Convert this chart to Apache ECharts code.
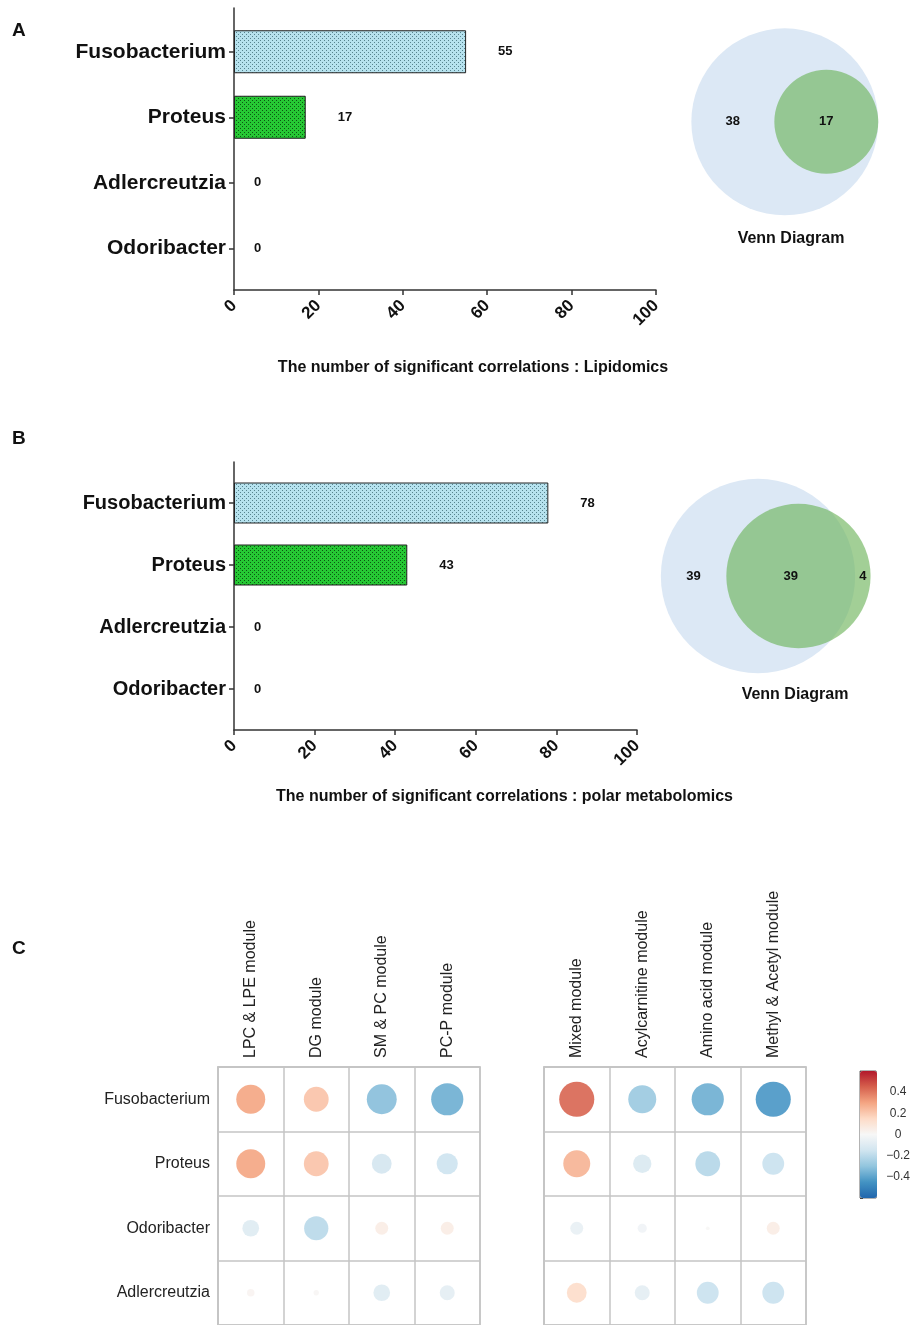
<!DOCTYPE html>
<html>
<head>
<meta charset="utf-8">
<script src="https://cdn.jsdelivr.net/npm/echarts@6/dist/echarts.min.js"></script>
<style>
html, body { margin: 0; padding: 0; background: #fff; }
#main { width: 913px; height: 1325px; }
</style>
</head>
<body>
<div id="main"></div>
<script>
// ---- data ----
const genera = ['Fusobacterium', 'Proteus', 'Adlercreutzia', 'Odoribacter'];
const lipidCounts = [55, 17, 0, 0];
const polarCounts = [78, 43, 0, 0];
// venn regions: Fusobacterium only, both, Proteus only
const vennLipid = [38, 17, 0];
const vennPolar = [39, 39, 4];

const lipidModules = ['LPC & LPE module', 'DG module', 'SM & PC module', 'PC-P module'];
const polarModules = ['Mixed module', 'Acylcarnitine module', 'Amino acid module', 'Methyl & Acetyl module'];
const corrGenera = ['Fusobacterium', 'Proteus', 'Odoribacter', 'Adlercreutzia'];
const lipidCorr = [
    [0.30, 0.22, -0.32, -0.37],
    [0.30, 0.22, -0.14, -0.16],
    [-0.10, -0.21, 0.06, 0.06],
    [0.02, 0.01, -0.10, -0.08]
];
const polarCorr = [
    [0.44, -0.28, -0.37, -0.44],
    [0.26, -0.12, -0.22, -0.17],
    [-0.06, -0.03, 0.005, 0.06],
    [0.14, -0.08, -0.17, -0.17]
];
const colorbarTicks = [-0.4, -0.2, 0, 0.2, 0.4];

const FONT = 'Liberation Sans, Arial, sans-serif';
const rdbu = ['#2166AC', '#4393C3', '#92C5DE', '#D1E5F0', '#F7F7F7', '#FDDBC7', '#F4A582', '#D6604D', '#B2182B'];

// dotted fill like the original bars
function dotPattern(base, dot) {
    const c = document.createElement('canvas');
    c.width = 4; c.height = 4;
    const g = c.getContext('2d');
    g.fillStyle = base; g.fillRect(0, 0, 4, 4);
    g.fillStyle = dot; g.fillRect(0, 0, 1, 1); g.fillRect(2, 2, 1, 1);
    return { image: c, repeat: 'repeat' };
}
const barFills = [dotPattern('#b6e2ee', '#56838e'), dotPattern('#26c834', '#0b5612')];

function barData(counts) {
    return counts.map((v, i) => ({
        value: v,
        itemStyle: { color: barFills[i % 2], borderWidth: v === 0 ? 0 : 1 },
        label: { distance: v === 0 ? 20 : 32 }
    }));
}

// area-proportional two-set venn
function lensArea(r1, r2, d) {
    if (d >= r1 + r2) return 0;
    if (d <= Math.abs(r1 - r2)) return Math.PI * Math.min(r1, r2) ** 2;
    const a1 = Math.acos((d * d + r1 * r1 - r2 * r2) / (2 * d * r1));
    const a2 = Math.acos((d * d + r2 * r2 - r1 * r1) / (2 * d * r2));
    const k = Math.sqrt((-d + r1 + r2) * (d + r1 - r2) * (d - r1 + r2) * (d + r1 + r2));
    return r1 * r1 * a1 + r2 * r2 * a2 - 0.5 * k;
}
function vennLayout(regions) {
    const r1 = Math.sqrt(regions[0] + regions[1]);
    const r2 = Math.sqrt(regions[1] + regions[2]);
    const target = Math.PI * regions[1];
    let lo = Math.abs(r1 - r2), hi = r1 + r2;
    for (let i = 0; i < 60; i++) {
        const mid = (lo + hi) / 2;
        if (lensArea(r1, r2, mid) > target) lo = mid; else hi = mid;
    }
    const d = (lo + hi) / 2;
    const xs = [(-r1 + d - r2) / 2, (d - r2 + Math.min(r1, d + r2)) / 2, (r1 + d + r2) / 2];
    return {
        circles: [[0, 0, r1, 0], [d, 0, r2, 1]],
        labels: regions.map((n, i) => [xs[i], 0, n]).filter(p => p[2] > 0)
    };
}
const vennA = vennLayout(vennLipid);
const vennB = vennLayout(vennPolar);

function corrData(mat) {
    const out = [];
    mat.forEach((row, r) => row.forEach((v, c) => out.push([c, r, v])));
    return out;
}

// ---- chart ----
const chart = echarts.init(document.getElementById('main'));

const labelBold = { fontFamily: FONT, fontWeight: 'bold', color: '#111' };
const axisDark = { lineStyle: { color: '#333', width: 1.5 } };

function countAxis(gridIndex, name, pad, gap) {
    return {
        gridIndex, type: 'value', min: 0, max: 100, interval: 20,
        axisLine: axisDark, axisTick: { length: 5, lineStyle: { color: '#333', width: 1.5 } },
        splitLine: { show: false },
        axisLabel: Object.assign({ rotate: 45, fontSize: 17, margin: 13 }, labelBold),
        name, nameLocation: 'middle', nameGap: gap,
        nameTextStyle: Object.assign({ fontSize: 16, padding: [0, 0, 0, pad] }, labelBold)
    };
}
function hiddenValue(gridIndex, min, max) {
    return { gridIndex, type: 'value', min, max, show: false };
}
function genusAxis(gridIndex, size) {
    return {
        gridIndex, type: 'category', data: genera, inverse: true,
        axisLine: { show: false },
        axisTick: { show: true, alignWithLabel: true, length: 5, lineStyle: { color: '#333', width: 1.5 } },
        axisLabel: Object.assign({ fontSize: size, margin: 8 }, labelBold)
    };
}
function lineOnly(gridIndex) {
    return {
        gridIndex, type: 'value', min: 0, max: 1,
        axisLine: { show: true, lineStyle: { color: '#333', width: 1.5 } },
        axisTick: { show: false }, axisLabel: { show: false }, splitLine: { show: false }
    };
}
const cellLine = { color: '#c4c4c4', width: 1.5 };
function moduleAxis(gridIndex, data) {
    return {
        gridIndex, type: 'category', data, position: 'top',
        axisLine: { lineStyle: cellLine }, axisTick: { show: false },
        splitLine: { show: true, interval: 0, lineStyle: cellLine },
        axisLabel: { rotate: -90, fontSize: 16, margin: 9, color: '#222', fontFamily: FONT, interval: 0 }
    };
}
function corrGenusAxis(gridIndex, showLabels) {
    return {
        gridIndex, type: 'category', data: corrGenera, inverse: true,
        axisLine: { lineStyle: cellLine }, axisTick: { show: false },
        splitLine: { show: true, interval: 0, lineStyle: cellLine },
        axisLabel: { show: showLabels, fontSize: 16, margin: 8, color: '#222', fontFamily: FONT }
    };
}

function vennCircles(xi, data) {
    return {
        type: 'custom', xAxisIndex: xi, yAxisIndex: xi, data, silent: true,
        renderItem(params, api) {
            const c = api.coord([api.value(0), api.value(1)]);
            const r = api.size([api.value(2), 0])[0];
            return {
                type: 'circle', shape: { cx: c[0], cy: c[1], r },
                style: { fill: api.value(3) === 0 ? '#dce8f5' : 'rgba(110,180,90,0.64)' }
            };
        }
    };
}
function vennLabels(xi, data) {
    return {
        type: 'custom', xAxisIndex: xi, yAxisIndex: xi, data, silent: true, z: 5,
        renderItem(params, api) {
            const c = api.coord([api.value(0), api.value(1)]);
            return {
                type: 'text', x: c[0], y: c[1],
                style: { text: String(api.value(2)), font: 'bold 13px ' + FONT, fill: '#111', align: 'center', verticalAlign: 'middle' }
            };
        }
    };
}

function barSeries(xi, data, bw) {
    return {
        type: 'bar', xAxisIndex: xi, yAxisIndex: xi, data, barWidth: bw,
        itemStyle: { borderColor: '#222' },
        label: Object.assign({ show: true, position: 'right', fontSize: 13 }, labelBold)
    };
}
function corrSeries(xi, mat) {
    return {
        type: 'scatter', xAxisIndex: xi, yAxisIndex: xi, data: corrData(mat),
        symbolSize: v => Math.max(2, 52.9 * Math.sqrt(Math.abs(v[2]))),
        itemStyle: { opacity: 0.9 }
    };
}

const option = {
    animation: false,
    backgroundColor: '#fff',
    textStyle: { fontFamily: FONT },
    grid: [
        { left: 234, top: 19, width: 422, height: 262 },
        { left: 234, top: 8, width: 422, height: 282 },
        { left: 234, top: 472, width: 403, height: 248 },
        { left: 234, top: 462, width: 403, height: 268 },
        { left: 684, top: 21, width: 201.6, height: 201.6 },
        { left: 648, top: 466, width: 242, height: 220 },
        { left: 218, top: 1067, width: 262, height: 262, show: true, borderColor: '#c4c4c4', borderWidth: 1.5 },
        { left: 544, top: 1067, width: 262, height: 262, show: true, borderColor: '#c4c4c4', borderWidth: 1.5 },
        { left: 860, top: 1071, width: 17, height: 127, show: true, borderColor: '#666', borderWidth: 1 }
    ],
    xAxis: [
        hiddenValue(0, 0, 100),
        countAxis(1, 'The number of significant correlations : Lipidomics', 56, 70),
        hiddenValue(2, 0, 100),
        countAxis(3, 'The number of significant correlations : polar metabolomics', 138, 59),
        hiddenValue(4, -8, 8),
        hiddenValue(5, -10, 12),
        moduleAxis(6, lipidModules),
        moduleAxis(7, polarModules),
        hiddenValue(8, 0, 1)
    ],
    yAxis: [
        genusAxis(0, 21),
        lineOnly(1),
        genusAxis(2, 20),
        lineOnly(3),
        hiddenValue(4, -8, 8),
        hiddenValue(5, -10, 10),
        corrGenusAxis(6, true),
        corrGenusAxis(7, false),
        {
            gridIndex: 8, type: 'value', position: 'right', min: -0.6, max: 0.6, interval: 0.2,
            axisLine: { show: false }, splitLine: { show: false },
            axisTick: { show: true, length: 3, lineStyle: { color: '#444' } },
            axisLabel: {
                fontSize: 12, color: '#333', margin: 22, align: 'center',
                formatter: v => colorbarTicks.some(t => Math.abs(t - v) < 1e-6)
                    ? (v < -1e-6 ? '\u2212' + Math.abs(v).toFixed(1) : (Math.abs(v) < 1e-6 ? '0' : v.toFixed(1)))
                    : ''
            }
        }
    ],
    visualMap: {
        type: 'continuous', min: -0.6, max: 0.6, dimension: 2, seriesIndex: [6, 7],
        inRange: { color: rdbu }, calculable: false, show: true,
        left: 860, top: 1071, itemWidth: 17, itemHeight: 127, padding: 0, text: null,
        hoverLink: false
    },
    graphic: [
        { type: 'text', left: 12, top: 21, style: { text: 'A', font: 'bold 19px ' + FONT, fill: '#111' } },
        { type: 'text', left: 12, top: 429, style: { text: 'B', font: 'bold 19px ' + FONT, fill: '#111' } },
        { type: 'text', left: 12, top: 939, style: { text: 'C', font: 'bold 19px ' + FONT, fill: '#111' } },
        { type: 'text', x: 791, y: 239, style: { text: 'Venn Diagram', font: 'bold 16px ' + FONT, fill: '#111', align: 'center', verticalAlign: 'middle' } },
        { type: 'text', x: 795, y: 695, style: { text: 'Venn Diagram', font: 'bold 16px ' + FONT, fill: '#111', align: 'center', verticalAlign: 'middle' } }
    ],
    series: [
        barSeries(0, barData(lipidCounts), 43),
        barSeries(2, barData(polarCounts), 41),
        vennCircles(4, vennA.circles),
        vennLabels(4, vennA.labels),
        vennCircles(5, vennB.circles),
        vennLabels(5, vennB.labels),
        corrSeries(6, lipidCorr),
        corrSeries(7, polarCorr)
    ]
};

chart.setOption(option);
</script>
</body>
</html>
